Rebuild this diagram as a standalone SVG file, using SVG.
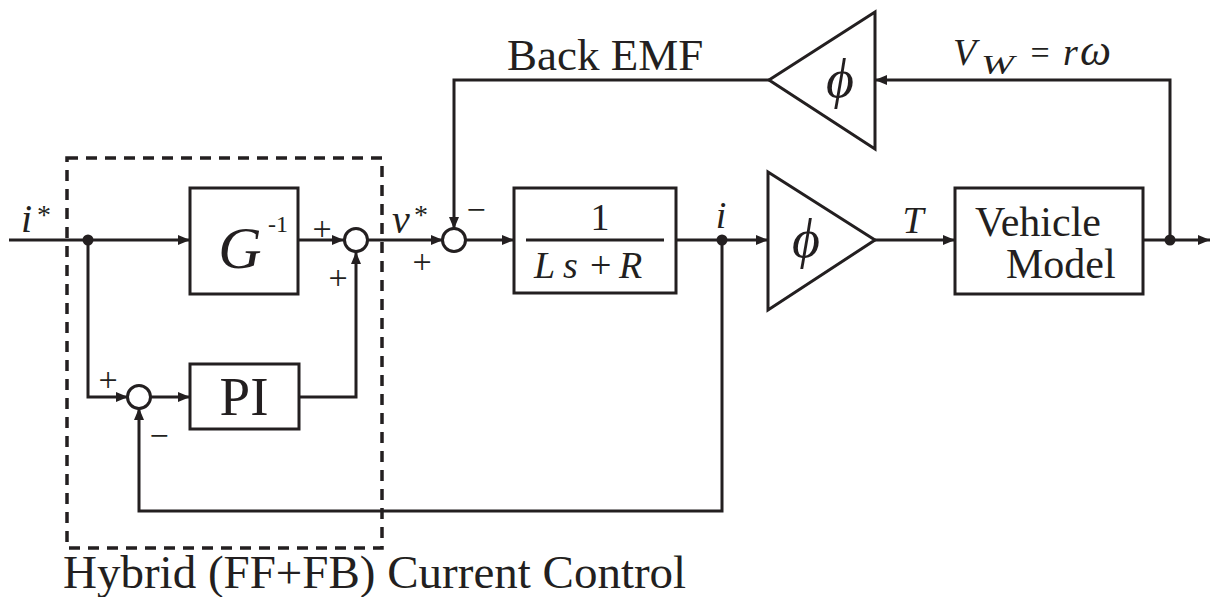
<svg xmlns="http://www.w3.org/2000/svg" width="1212" height="597" viewBox="0 0 1212 597">
<style>
.ln{fill:none;stroke:#231f20;stroke-width:3;stroke-linejoin:miter}
.bx{fill:#fff;stroke:#231f20;stroke-width:3}
.sum{fill:#fff;stroke:#231f20;stroke-width:3}
.dot{fill:#231f20}
.dash{fill:none;stroke:#231f20;stroke-width:3.5;stroke-dasharray:11 8}
.rm{font-family:"Liberation Serif","Times New Roman",Times,"DejaVu Serif",serif;fill:#231f20}
.it{font-family:"Liberation Serif","Times New Roman",Times,"DejaVu Serif",serif;font-style:italic;fill:#231f20}
.sg{font-family:"Liberation Serif","Times New Roman",Times,"DejaVu Serif",serif;font-size:34px;fill:#231f20;text-anchor:middle}
</style>
<defs>
<marker id="ar" viewBox="0 0 12 10" refX="12" refY="5" markerWidth="12" markerHeight="10" markerUnits="userSpaceOnUse" orient="auto">
<path d="M0,0 L12,5 L0,10 Z" fill="#231f20"/>
</marker>
</defs>

<g id="connectors">
<path class="ln" d="M9,240 H190" marker-end="url(#ar)"/>
<path class="ln" d="M298,240 H344" marker-end="url(#ar)"/>
<path class="ln" d="M88,240 V397 H128" marker-end="url(#ar)"/>
<path class="ln" d="M150,397 H190" marker-end="url(#ar)"/>
<path class="ln" d="M299,397 H356 V252" marker-end="url(#ar)"/>
<path class="ln" d="M368,240 H443" marker-end="url(#ar)"/>
<path class="ln" d="M769,80 H454 V229" marker-end="url(#ar)"/>
<path class="ln" d="M465,240 H514" marker-end="url(#ar)"/>
<path class="ln" d="M676,240 H768" marker-end="url(#ar)"/>
<path class="ln" d="M875,240 H955" marker-end="url(#ar)"/>
<path class="ln" d="M1143,240 H1210" marker-end="url(#ar)"/>
<path class="ln" d="M1170,240 V80 H875" marker-end="url(#ar)"/>
<path class="ln" d="M722,240 V511 H139 V408" marker-end="url(#ar)"/>
<circle class="dot" cx="88" cy="240" r="5.5"/>
<circle class="dot" cx="722" cy="240" r="5.5"/>
<circle class="dot" cx="1170" cy="240" r="5.5"/>
</g>

<g id="hybrid-box">
<rect class="dash" x="67" y="158" width="315" height="390"/>
<text class="rm" x="63" y="588" font-size="47">Hybrid (FF+FB) Current Control</text>
</g>

<g id="input-label">
<text class="it" x="21" y="232" font-size="40">i</text>
<text class="rm" x="37" y="224" font-size="28">*</text>
</g>

<g id="ginv">
<rect class="bx" x="190" y="188" width="108" height="106"/>
<text class="it" x="240" y="268" font-size="60" text-anchor="middle">G</text>
<text class="rm" x="268" y="232" font-size="24">-1</text>
</g>

<g id="sum1">
<circle class="sum" cx="356" cy="240" r="11.5"/>
<text class="sg" x="322" y="240">+</text>
<text class="sg" x="338" y="289">+</text>
</g>

<g id="pi-sum">
<circle class="sum" cx="139" cy="397" r="11.5"/>
<text class="sg" x="108" y="391">+</text>
<text class="sg" x="159" y="447">−</text>
</g>

<g id="pi">
<rect class="bx" x="190" y="364" width="109" height="65"/>
<text class="rm" x="244" y="415" font-size="55" text-anchor="middle">PI</text>
</g>

<g id="vstar-label">
<text class="it" x="392" y="233" font-size="40">v</text>
<text class="rm" x="414" y="224" font-size="28">*</text>
</g>

<g id="sum2">
<circle class="sum" cx="454" cy="240" r="11.5"/>
<text class="sg" x="476" y="221">−</text>
<text class="sg" x="422" y="273">+</text>
</g>

<g id="plant">
<rect class="bx" x="514" y="188" width="162" height="105"/>
<text class="rm" x="600" y="230" font-size="38" text-anchor="middle">1</text>
<line class="ln" x1="526" y1="240" x2="664" y2="240"/>
<text class="it" x="534" y="278" font-size="38">L</text>
<text class="it" x="563" y="278" font-size="38">s</text>
<text class="rm" x="590" y="278" font-size="38">+</text>
<text class="it" x="619" y="278" font-size="38">R</text>
</g>

<g id="i-label">
<text class="it" x="721" y="228" font-size="38" text-anchor="middle">i</text>
</g>

<g id="torque-gain">
<path class="bx" d="M768,172 L875,240 L768,310 Z"/>
<text class="it" x="806" y="257" font-size="54" text-anchor="middle">ϕ</text>
</g>

<g id="t-label">
<text class="it" x="913" y="233" font-size="38" text-anchor="middle">T</text>
</g>

<g id="vehicle">
<rect class="bx" x="955" y="188" width="188" height="106"/>
<text class="rm" x="975" y="236" font-size="42">Vehicle</text>
<text class="rm" x="1006" y="278" font-size="42">Model</text>
</g>

<g id="emf-gain">
<path class="bx" d="M875,12 L769,80 L875,149 Z"/>
<text class="it" x="840" y="97" font-size="54" text-anchor="middle">ϕ</text>
</g>

<g id="emf-label">
<text class="rm" x="507" y="70" font-size="45">Back EMF</text>
</g>

<g id="vw-label">
<text class="it" x="953" y="65" font-size="38">V</text>
<text class="it" x="981" y="74" font-size="28" textLength="33" lengthAdjust="spacingAndGlyphs">W</text>
<text class="rm" x="1040" y="64" font-size="34" text-anchor="middle">=</text>
<text class="it" x="1063" y="65" font-size="38">r</text>
<text class="it" x="1080" y="65" font-size="44">ω</text>
</g>
</svg>
